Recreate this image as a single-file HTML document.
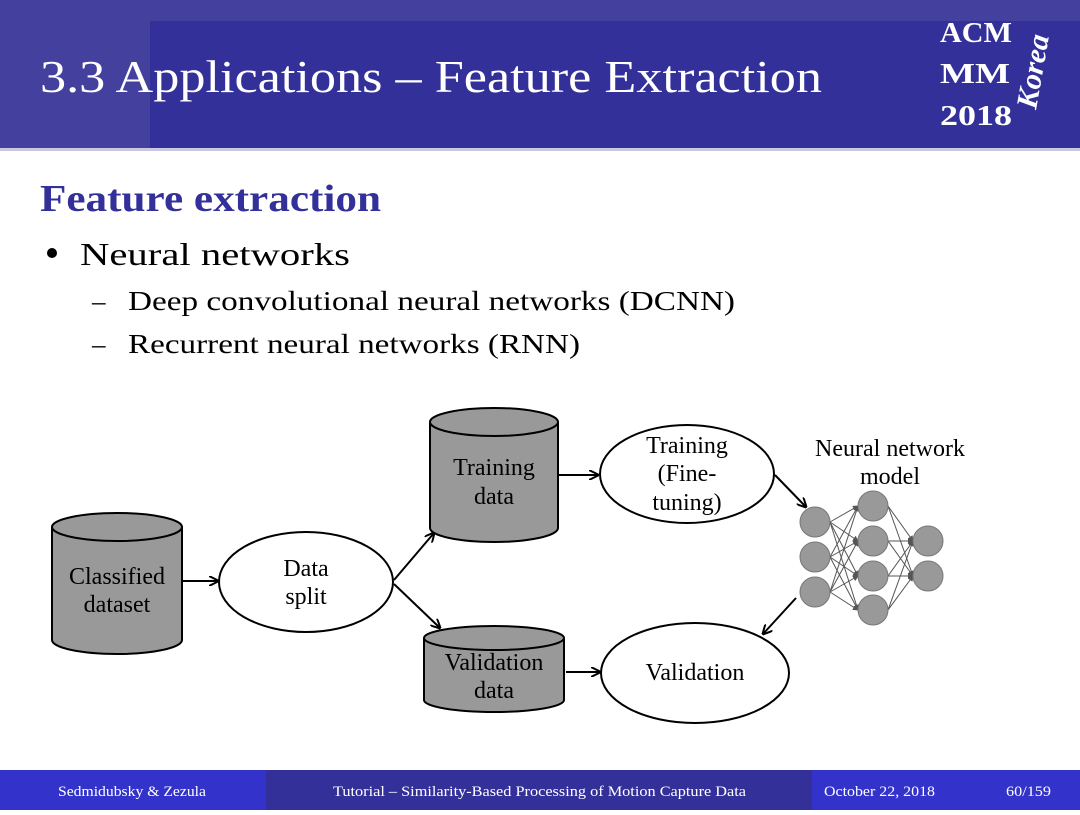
<!DOCTYPE html>
<html><head><style>
body{margin:0;width:1080px;height:810px;overflow:hidden;background:#fff;font-family:"Liberation Serif",serif}
</style></head><body>
<svg width="1080" height="810" xmlns="http://www.w3.org/2000/svg" font-family="Liberation Serif, serif">
<defs><marker id="a" markerWidth="10" markerHeight="10" refX="9" refY="5" orient="auto" markerUnits="userSpaceOnUse"><path d="M0,0 L10,5 L0,10" fill="none" stroke="#000" stroke-width="2"/></marker>
<marker id="s" markerWidth="6" markerHeight="6" refX="5" refY="3" orient="auto" markerUnits="userSpaceOnUse"><path d="M0,0 L6,3 L0,6z" fill="#555"/></marker></defs>
<rect x="0" y="0" width="1080" height="150" fill="#44409e"/>
<rect x="150" y="21" width="930" height="129" fill="#34309a"/>
<rect x="0" y="148" width="1080" height="3" fill="#c8c8e0"/>
<text x="40" y="92" font-size="46" fill="#fff" textLength="782" lengthAdjust="spacingAndGlyphs">3.3 Applications – Feature Extraction</text>
<text x="940" y="42" font-size="28" font-weight="bold" fill="#fff" textLength="72" lengthAdjust="spacingAndGlyphs">ACM</text>
<text x="940" y="83" font-size="28" font-weight="bold" fill="#fff" textLength="70" lengthAdjust="spacingAndGlyphs">MM</text>
<text x="940" y="125" font-size="28" font-weight="bold" fill="#fff" textLength="72" lengthAdjust="spacingAndGlyphs">2018</text>
<text transform="translate(1036,110) rotate(-80)" font-size="30" font-style="italic" font-weight="bold" fill="#fff">Korea</text>
<text x="40" y="211" font-size="38" font-weight="bold" fill="#34309a" textLength="341" lengthAdjust="spacingAndGlyphs">Feature extraction</text>
<circle cx="52" cy="253" r="5" fill="#000"/>
<text x="80" y="265" font-size="32" textLength="270" lengthAdjust="spacingAndGlyphs">Neural networks</text>
<text x="92" y="310" font-size="27">–</text><text x="128" y="310" font-size="27" textLength="607" lengthAdjust="spacingAndGlyphs">Deep convolutional neural networks (DCNN)</text>
<text x="92" y="353" font-size="27">–</text><text x="128" y="353" font-size="27" textLength="452" lengthAdjust="spacingAndGlyphs">Recurrent neural networks (RNN)</text>
<g stroke="#000" stroke-width="2" fill="#999">
<path d="M52,527 V640 A65,14 0 0 0 182,640 V527"/><ellipse cx="117" cy="527" rx="65" ry="14"/>
<path d="M430,422 V528 A64,14 0 0 0 558,528 V422"/><ellipse cx="494" cy="422" rx="64" ry="14"/>
<path d="M424,638 V700 A70,12 0 0 0 564,700 V638"/><ellipse cx="494" cy="638" rx="70" ry="12"/>
</g>
<g stroke="#000" stroke-width="2" fill="#fff">
<ellipse cx="306" cy="582" rx="87" ry="50"/>
<ellipse cx="687" cy="474" rx="87" ry="49"/>
<ellipse cx="695" cy="673" rx="94" ry="50"/>
</g>
<g font-size="24" text-anchor="middle">
<text x="117" y="584">Classified</text><text x="117" y="612">dataset</text>
<text x="306" y="576">Data</text><text x="306" y="604">split</text>
<text x="494" y="475">Training</text><text x="494" y="504">data</text>
<text x="494" y="670">Validation</text><text x="494" y="698">data</text>
<text x="687" y="453">Training</text><text x="687" y="481">(Fine-</text><text x="687" y="510">tuning)</text>
<text x="695" y="680">Validation</text>
<text x="890" y="456">Neural network</text><text x="890" y="484">model</text>
</g>
<g stroke="#000" stroke-width="2" marker-end="url(#a)">
<line x1="183" y1="581" x2="218" y2="581"/>
<line x1="394" y1="580" x2="434" y2="533"/>
<line x1="394" y1="584" x2="440" y2="628"/>
<line x1="558" y1="475" x2="598" y2="475"/>
<line x1="566" y1="672" x2="600" y2="672"/>
<line x1="775" y1="475" x2="806" y2="507"/>
<line x1="796" y1="598" x2="763" y2="634"/>
</g>
<g stroke="#555" stroke-width="1" marker-end="url(#s)">
<line x1="830" y1="522" x2="858" y2="506"/><line x1="830" y1="522" x2="858" y2="541"/><line x1="830" y1="522" x2="858" y2="576"/><line x1="830" y1="522" x2="858" y2="610"/>
<line x1="830" y1="557" x2="858" y2="506"/><line x1="830" y1="557" x2="858" y2="541"/><line x1="830" y1="557" x2="858" y2="576"/><line x1="830" y1="557" x2="858" y2="610"/>
<line x1="830" y1="592" x2="858" y2="506"/><line x1="830" y1="592" x2="858" y2="541"/><line x1="830" y1="592" x2="858" y2="576"/><line x1="830" y1="592" x2="858" y2="610"/>
<line x1="888" y1="506" x2="913" y2="541"/><line x1="888" y1="506" x2="913" y2="576"/>
<line x1="888" y1="541" x2="913" y2="541"/><line x1="888" y1="541" x2="913" y2="576"/>
<line x1="888" y1="576" x2="913" y2="541"/><line x1="888" y1="576" x2="913" y2="576"/>
<line x1="888" y1="610" x2="913" y2="541"/><line x1="888" y1="610" x2="913" y2="576"/>
</g>
<g fill="#999" stroke="#777" stroke-width="1">
<circle cx="815" cy="522" r="15"/><circle cx="815" cy="557" r="15"/><circle cx="815" cy="592" r="15"/>
<circle cx="873" cy="506" r="15"/><circle cx="873" cy="541" r="15"/><circle cx="873" cy="576" r="15"/><circle cx="873" cy="610" r="15"/>
<circle cx="928" cy="541" r="15"/><circle cx="928" cy="576" r="15"/>
</g>
<rect x="0" y="770" width="1080" height="40" fill="#34309a"/>
<rect x="0" y="770" width="266" height="40" fill="#3333cc"/>
<rect x="812" y="770" width="268" height="40" fill="#3333cc"/>
<g font-size="15" fill="#fff">
<text x="58" y="796" textLength="148" lengthAdjust="spacingAndGlyphs">Sedmidubsky &amp; Zezula</text>
<text x="333" y="796" textLength="413" lengthAdjust="spacingAndGlyphs">Tutorial – Similarity-Based Processing of Motion Capture Data</text>
<text x="824" y="796" textLength="111" lengthAdjust="spacingAndGlyphs">October 22, 2018</text>
<text x="1006" y="796" textLength="45" lengthAdjust="spacingAndGlyphs">60/159</text>
</g>
</svg>
</body></html>
